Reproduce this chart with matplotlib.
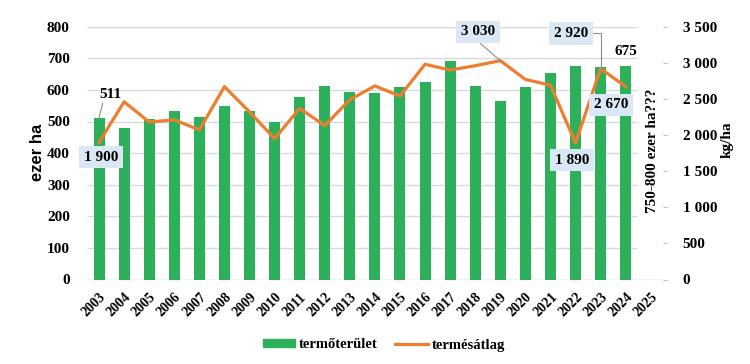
import matplotlib
matplotlib.use("Agg")
import matplotlib.pyplot as plt
from matplotlib.patches import Patch
from matplotlib.lines import Line2D

years = [str(y) for y in range(2003, 2026)]
area = [511, 481, 508, 532, 513, 548, 532, 500, 578, 613, 594, 589,
        610, 626, 692, 613, 566, 610, 652, 677, 673, 675]
yield_avg = [1900, 2460, 2180, 2210, 2070, 2670, 2320, 1950, 2370, 2130, 2490,
             2680, 2540, 2980, 2900, 2960, 3030, 2770, 2690, 1890, 2920, 2670]
left_ticks = [0, 100, 200, 300, 400, 500, 600, 700, 800]
right_ticks = [0, 500, 1000, 1500, 2000, 2500, 3000, 3500]

green = "#2cb05a"
orange = "#ed7d31"
box_blue = "#dae8f5"
serif = "Liberation Serif"

W, H = 750, 364
fig = plt.figure(figsize=(W / 100, H / 100), dpi=100)
# plot area in pixels: x 86.5..663.3, y 26.7..279.5
ax = fig.add_axes([86.5 / W, 1 - 279.5 / H, (663.3 - 86.5) / W, (279.5 - 26.7) / H])

x = list(range(len(area)))
ax.set_xlim(-0.5, len(years) - 0.5)
ax.set_ylim(0, 800)

# gridlines stop short of the right edge, as in the original
ax.hlines(left_ticks[1:], -0.5, 21.45, color="#d9d9d9", lw=1, zorder=0)
ax.axhline(0, color="#bfbfbf", lw=1, zorder=1)

ax.bar(x, area, width=0.44, color=green, zorder=2)

for s in ax.spines.values():
    s.set_visible(False)
ax.set_yticks(left_ticks)
ax.set_yticklabels([str(v) for v in left_ticks], fontfamily=serif,
                   fontweight="bold", fontsize=11)
ax.tick_params(axis="y", length=0, pad=12)
ax.set_xticks(range(len(years)))
ax.set_xticklabels(years, rotation=45, ha="right", rotation_mode="anchor",
                   fontfamily=serif, fontweight="bold", fontsize=10)
ax.tick_params(axis="x", length=0, pad=8)

ax2 = ax.twinx()
ax2.set_ylim(0, 3500)
ax2.plot(x, yield_avg, color=orange, lw=2.3, zorder=3)
for s in ax2.spines.values():
    s.set_visible(False)
ax2.set_yticks(right_ticks)
ax2.set_yticklabels([f"{v:,}".replace(",", " ") for v in right_ticks],
                    fontfamily=serif, fontweight="bold", fontsize=11)
ax2.tick_params(axis="y", length=3, color="#bfbfbf", pad=11)

# data labels
bbox = dict(boxstyle="square,pad=0.32", fc=box_blue, ec="none")
tkw = dict(fontfamily=serif, fontweight="bold", fontsize=11, ha="center", va="center")
lkw = dict(arrowstyle="-", color="#8c8c8c", lw=0.8, shrinkA=0, shrinkB=0)

ax.annotate(str(area[0]), xy=(0, area[0]), xytext=(0.44, 587),
            arrowprops=dict(lkw, relpos=(0.2, 0.0)), **tkw)
ax.text(21.01, 723, str(area[-1]), **tkw)

ax2.text(0.08, 1696, "1 900", bbox=bbox, **tkw)
ax2.annotate("3 030", xy=(16, yield_avg[16]), xytext=(15.11, 3427), bbox=bbox,
             arrowprops=dict(lkw, relpos=(0.4, 0.0)), **tkw)
ax2.annotate("2 920", xy=(20, yield_avg[20]), xytext=(18.82, 3410), bbox=bbox,
             arrowprops=dict(lkw, relpos=(1.0, 0.5),
                             connectionstyle="angle,angleA=0,angleB=90,rad=0"),
             **tkw)
ax2.text(18.86, 1654, "1 890", bbox=bbox, **tkw)
ax2.text(20.41, 2416, "2 670", bbox=bbox, **tkw)

# axis titles
fig.text(37 / W, 1 - 152 / H, "ezer ha", rotation=90, ha="center", va="center",
         fontfamily="Liberation Sans", fontweight="bold", fontsize=12)
fig.text(653 / W, 1 - 151 / H, "750-800 ezer ha???", rotation=90, ha="center",
         va="center", fontfamily=serif, fontweight="bold", fontsize=11)
fig.text(727 / W, 1 - 140 / H, "kg/ha", rotation=90, ha="center", va="center",
         fontfamily=serif, fontweight="bold", fontsize=11)

handles = [Patch(color=green, label="termőterület"),
           Line2D([0], [0], color=orange, lw=2.3, label="termésátlag")]
fig.legend(handles=handles, loc="center", bbox_to_anchor=(384 / W, 1 - 345 / H),
           ncol=2, frameon=False, handlelength=2.2, handleheight=0.45,
           handletextpad=0.3, columnspacing=1.2,
           prop=dict(family=serif, weight="bold", size=10.5))

fig.savefig("out.png", dpi=100)
